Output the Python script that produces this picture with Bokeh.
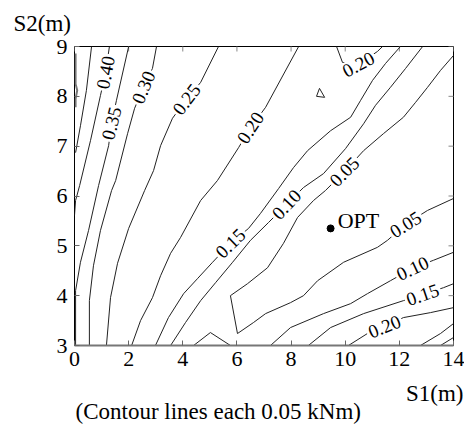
import math
from bokeh.plotting import figure
from bokeh.models import Label, FixedTicker, Range1d, Title
from bokeh.embed import file_html
from bokeh.resources import INLINE

# ---------------- data ----------------
S1_TICKS = [0, 2, 4, 6, 8, 10, 12, 14]
S2_TICKS = [3, 4, 5, 6, 7, 8, 9]

# contour polylines (S1 [m], S2 [m])
L050_S1 = [0.04, 0.04, 0.10, 0.04, 0.04]
L050_S2 = [8.86, 8.25, 8.12, 7.95, 7.78]

L045_S1 = [0.63, 0.44, 0.22, 0.04]
L045_S2 = [9.00, 8.12, 7.41, 6.87]

L040_S1 = [1.29, 1.15, 0.96, 0.59, 0.19, 0.04, 0.00]
L040_S2 = [9.00, 8.48, 8.02, 7.11, 6.21, 5.91, 5.61]

L035_S1 = [2.00, 1.55, 1.37, 1.26, 0.89, 0.52, 0.22, 0.04, 0.04]
L035_S2 = [9.00, 7.92, 7.46, 7.01, 6.21, 5.31, 4.67, 4.10, 3.00]

L030_S1 = [3.03, 2.88, 2.55, 2.22, 1.96, 1.52, 1.37, 0.96, 0.70, 0.55, 0.55]
L030_S2 = [9.00, 8.56, 8.18, 7.76, 7.25, 6.31, 6.11, 5.31, 4.60, 3.90, 3.00]

L025_S1 = [5.32, 4.66, 4.14, 3.62, 3.18, 2.92, 2.59, 2.00, 1.59, 1.33, 1.18]
L025_S2 = [9.00, 8.28, 7.94, 7.56, 7.01, 6.51, 6.11, 5.35, 4.65, 3.96, 3.00]

L020_S1 = [8.28, 7.06, 6.50, 6.06, 5.28, 4.66, 3.92, 3.55, 3.18, 2.88, 2.44, 2.11]
L020_S2 = [9.00, 7.78, 7.37, 6.97, 6.31, 5.91, 5.17, 4.85, 4.40, 3.96, 3.50, 3.00]

L020T_S1 = [9.68, 9.90, 10.49, 11.19, 11.38]
L020T_S2 = [9.00, 8.68, 8.64, 8.90, 9.00]

L020R_S1 = [8.94, 9.05, 9.24, 8.94]
L020R_S2 = [8.00, 8.16, 7.98, 8.00]

L015_S1 = [12.04, 11.49, 11.01, 10.57, 10.20, 9.46, 8.61, 8.09, 7.54, 6.87, 6.43,
           5.76, 5.10, 4.54, 4.03, 3.47, 2.99]
L015_S2 = [9.00, 8.66, 8.32, 7.92, 7.58, 7.31, 6.91, 6.57, 6.15, 5.65, 5.35,
           5.05, 4.67, 4.34, 4.04, 3.56, 3.00]

L010_S1 = [12.86, 12.23, 11.67, 11.12, 10.68, 10.01, 9.20, 8.46, 7.83, 7.17, 6.50,
           5.84, 5.21, 4.66, 4.10, 3.55]
L010_S2 = [9.00, 8.56, 8.18, 7.82, 7.45, 6.95, 6.45, 6.17, 5.83, 5.47, 5.11,
           4.67, 4.26, 3.90, 3.46, 3.00]

L005_S1 = [14.00, 13.52, 13.04, 12.60, 12.15, 11.41, 10.68, 9.97, 9.27, 8.83, 8.24,
           7.72, 7.13, 6.39, 5.76, 6.02, 6.61, 7.06, 7.98, 8.46, 8.98, 9.94, 11.19,
           11.56, 12.23, 13.04, 14.00]
L005_S2 = [8.82, 8.52, 8.18, 7.88, 7.58, 7.25, 6.91, 6.49, 6.11, 5.91, 5.57,
           5.05, 4.56, 4.24, 4.00, 3.24, 3.46, 3.64, 3.86, 4.00, 4.30, 4.67, 4.97,
           5.11, 5.43, 5.71, 5.95]

L005B_S1 = [4.40, 5.02, 5.76]
L005B_S2 = [3.00, 3.26, 3.00]

L010L_S1 = [7.24, 7.98, 9.20, 10.20, 10.82, 11.67, 12.49, 13.26, 14.00]
L010L_S2 = [3.00, 3.36, 3.64, 3.84, 4.04, 4.30, 4.55, 4.71, 4.87]

L015L_S1 = [8.64, 9.46, 10.68, 12.15, 12.86, 13.63, 14.00]
L015L_S2 = [3.00, 3.36, 3.64, 3.90, 4.02, 4.16, 4.24]

L020L_S1 = [10.12, 10.82, 11.45, 12.15, 13.15, 14.00]
L020L_S2 = [3.00, 3.24, 3.38, 3.56, 3.66, 3.76]

L025L_S1 = [12.78, 13.52, 14.00]
L025L_S2 = [3.00, 3.24, 3.44]

L030L_S1 = [13.52, 14.00]
L030L_S2 = [3.00, 3.16]

# contour labels
LAB_TEXT = ["0.40", "0.35", "0.30", "0.25", "0.20", "0.15", "0.10", "0.05",
            "0.20", "0.05", "0.10", "0.15", "0.20"]
LAB_S1 = [1.15, 1.37, 2.55, 4.14, 6.50, 5.76, 7.83, 9.97, 10.49, 12.23, 12.49, 12.86, 11.45]
LAB_S2 = [8.48, 7.46, 8.18, 7.94, 7.37, 5.05, 5.83, 6.49, 8.64, 5.43, 4.55, 4.02, 3.38]
LAB_ANGLE = [79, 76, 67, 53, 57, 44, 47, 45, 28, 32, 25, 19, 22]

OPT_S1 = [9.46]
OPT_S2 = [5.35]

Y_TITLE = "S2(m)"
X_TITLE = "S1(m)"
CAPTION = "(Contour lines each 0.05 kNm)"

FONT = "Liberation Serif"

# ---------------- figure ----------------
p = figure(width=464, height=436, x_range=Range1d(0, 14), y_range=Range1d(3, 9),
           output_backend="svg", toolbar_location=None,
           min_border_left=74, min_border_right=11, min_border_top=46, min_border_bottom=91)
p.grid.visible = False
p.background_fill_color = "white"
p.border_fill_color = "white"
p.outline_line_color = "black"
p.outline_line_width = 1

for ax in p.xaxis:
    ax.ticker = FixedTicker(ticks=S1_TICKS)
    ax.major_label_standoff = 6
for ax in p.yaxis:
    ax.ticker = FixedTicker(ticks=S2_TICKS)
    ax.major_label_standoff = 7

for ax in list(p.xaxis) + list(p.yaxis):
    ax.major_tick_in = 5
    ax.major_tick_out = 0
    ax.minor_tick_line_color = None
    ax.major_tick_line_color = "#666666"
    ax.major_label_text_font = FONT
    ax.major_label_text_font_size = "22px"
    ax.major_label_text_color = "black"

p.xaxis.axis_line_color = "#777777"
p.xaxis.axis_line_width = 2
p.yaxis.axis_line_color = None

# mirrored inward ticks on the top and right edges (outer half of each dash is clipped)
p.scatter(S1_TICKS, [9] * len(S1_TICKS), marker="dash", angle=math.pi / 2, size=10,
          line_color="#888888", line_width=1)
p.scatter([14] * len(S2_TICKS), S2_TICKS, marker="dash", size=10,
          line_color="#888888", line_width=1)

# contour lines
lines = [
    (L045_S1, L045_S2), (L040_S1, L040_S2), (L035_S1, L035_S2), (L030_S1, L030_S2),
    (L025_S1, L025_S2), (L020_S1, L020_S2), (L020T_S1, L020T_S2), (L020R_S1, L020R_S2),
    (L015_S1, L015_S2), (L010_S1, L010_S2), (L005_S1, L005_S2), (L005B_S1, L005B_S2),
    (L010L_S1, L010L_S2), (L015L_S1, L015L_S2), (L020L_S1, L020L_S2),
    (L025L_S1, L025L_S2), (L030L_S1, L030L_S2),
]
p.multi_line(xs=[l[0] for l in lines], ys=[l[1] for l in lines],
             line_color="#222222", line_width=1)
p.line(L050_S1, L050_S2, line_color="#777777", line_width=2)

# contour labels with white background (gap in the line)
for t, x, y, a in zip(LAB_TEXT, LAB_S1, LAB_S2, LAB_ANGLE):
    p.add_layout(Label(x=x, y=y, text=t, angle=math.radians(a), angle_units="rad",
                       text_font=FONT, text_font_size="19px", text_color="black",
                       text_align="center", text_baseline="middle",
                       background_fill_color="white", padding=2))

# optimum point
p.scatter(OPT_S1, OPT_S2, size=7, color="black")
p.add_layout(Label(x=9.72, y=5.51, text="OPT", text_font=FONT, text_font_size="22px",
                   text_align="left", text_baseline="middle", text_color="black"))

# axis titles and caption (side panels)
p.title.text = Y_TITLE
p.title.align = "left"
p.title.offset = -61
p.title.vertical_align = "top"
p.title.standoff = 17
p.title.text_font = FONT
p.title.text_font_size = "23px"
p.title.text_font_style = "normal"
p.title.text_color = "black"

p.add_layout(Title(text=X_TITLE, align="right", offset=-10, vertical_align="bottom",
                   standoff=20, text_font=FONT, text_font_size="23px",
                   text_font_style="normal", text_color="black"), "below")
p.add_layout(Title(text=CAPTION, align="left", offset=1, vertical_align="top",
                   standoff=-34, text_font=FONT, text_font_size="23px",
                   text_font_style="normal", text_color="black"), "below")

open("out.html", "w").write(file_html(p, INLINE))
